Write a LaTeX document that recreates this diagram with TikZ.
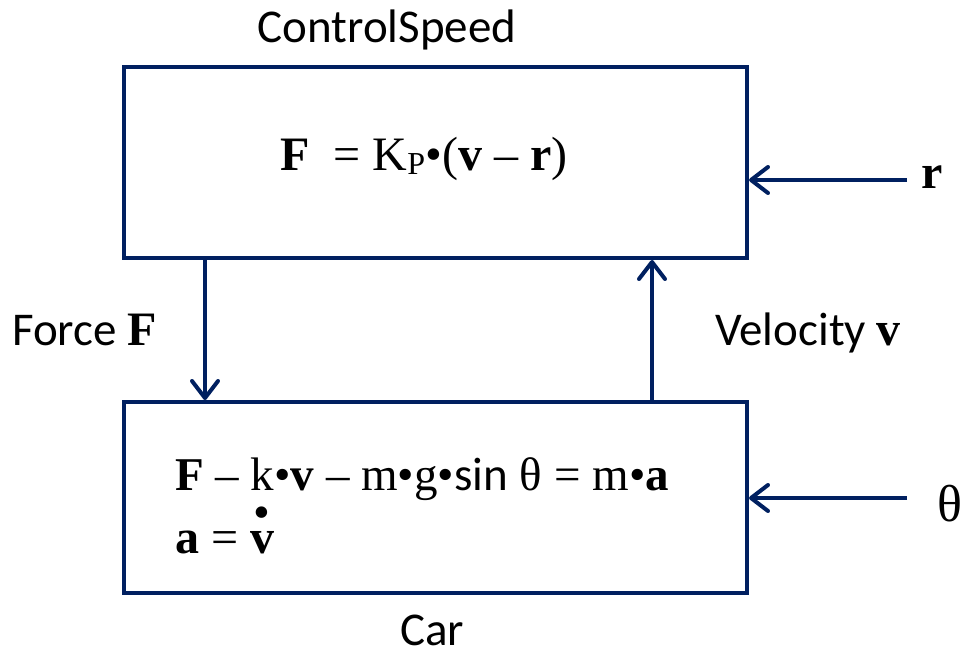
\documentclass[tikz,border=0pt]{standalone}
\usepackage{fontspec}
\setmainfont{Liberation Serif}
\newfontfamily\calfont{Carlito}
\usetikzlibrary{arrows.meta}
\definecolor{navy}{HTML}{002060}
\newcommand{\vdotbold}{\ooalign{\textbf{v}\cr\hidewidth\smash{\raisebox{0.52em}{•}}\hidewidth\cr}}
\begin{document}
\begin{tikzpicture}[x=1pt,y=-1pt,
  blk/.style={draw=navy,line width=4pt,rectangle,minimum width=623pt,minimum height=191pt,inner sep=0pt},
  arr/.style={draw=navy,line width=4pt,-{Straight Barb[length=17pt,width=26pt,line cap=round,line join=round]}},
  lbl/.style={font=\fontsize{47}{56}\selectfont\calfont,inner sep=0pt,anchor=base},
  eq/.style={font=\fontsize{48}{56}\selectfont,inner sep=0pt,anchor=base west}]
\path[use as bounding box] (0,0) rectangle (963,653);
\node[blk] (ctrl) at (435.5,162.5) {};
\node[blk] (car) at (435.5,497.5) {};
\node[lbl] (ctrllbl) at (387,42) {ControlSpeed};
\node[lbl,text depth=0pt] (carlbl) at (432,645) {Car};
\node[lbl,anchor=base west] (forcelbl) at (12,345) {Force \fontsize{48}{56}\rmfamily\textbf{F}};
\node[lbl,anchor=base west] (vellbl) at (715,345) {Velocity \fontsize{48}{56}\rmfamily\textbf{v}};
\node[eq,anchor=base] (eqtop) at (424,170) {\textbf{F}\ \ = K\raisebox{-0.1em}{\fontsize{32}{36}\selectfont P}•(\textbf{v} – \textbf{r})};
\node[eq,font=\fontsize{47}{56}\selectfont] (eqcar1) at (175,490) {\textbf{F} – k•\textbf{v} – m•g•{\calfont sin} θ = m•\textbf{a}};
\node[eq] (eqcar2) at (175,553) {\textbf{a} = \vdotbold};
\node[eq] (rlbl) at (921,188) {\textbf{r}};
\node[eq,font=\fontsize{52}{56}\selectfont] (thlbl) at (937,521) {θ};
\coordinate (fx) at (205,0);
\coordinate (vx) at (652,0);
\coordinate (rin) at (907,180);
\coordinate (tin) at (907,498);
\draw[arr] (ctrl.south -| fx) -- (car.north -| fx);
\draw[arr] (car.north -| vx) -- (ctrl.south -| vx);
\draw[arr] (rin) -- (ctrl.east |- rin);
\draw[arr] (tin) -- (car.east |- tin);
\end{tikzpicture}
\end{document}
